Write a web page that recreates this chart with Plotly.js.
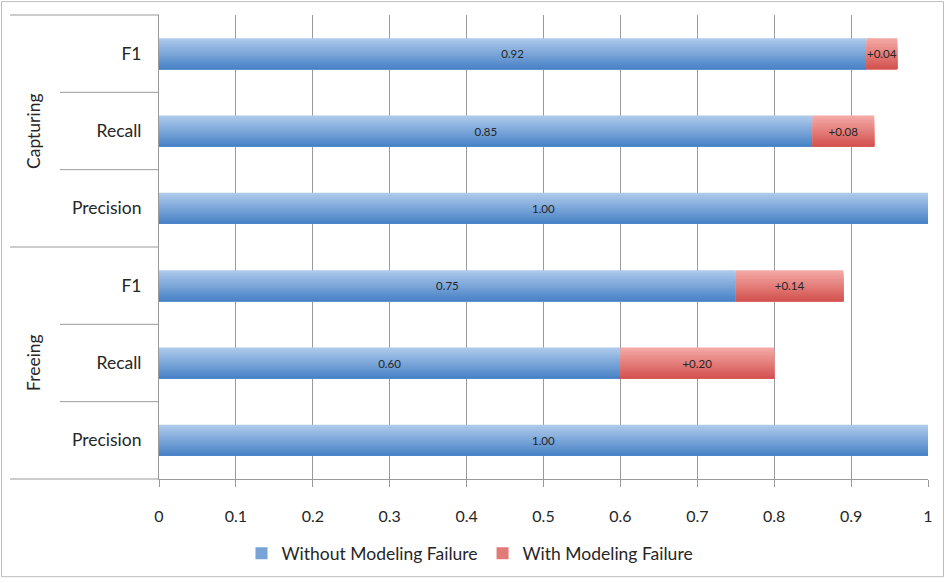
<!DOCTYPE html>
<html>
<head>
<meta charset="utf-8">
<script src="https://cdn.plot.ly/plotly-3.0.1.min.js"></script>
<style>html,body{margin:0;padding:0;background:#fff;}#chart{width:945px;height:583px;}</style>
</head>
<body>
<div id="chart"></div>
<script>
// ---- data ----
var groups = ["Capturing", "Capturing", "Capturing", "Freeing", "Freeing", "Freeing"];
var metrics = ["F1", "Recall", "Precision", "F1", "Recall", "Precision"];
var withoutFailure = [0.92, 0.85, 1.00, 0.75, 0.60, 1.00];
var withFailureAdd = [0.04, 0.08, 0, 0.14, 0.20, 0];
var seriesNames = ["Without Modeling Failure", "With Modeling Failure"];
var xTicks = [0, 0.1, 0.2, 0.3, 0.4, 0.5, 0.6, 0.7, 0.8, 0.9, 1];
var xTickLabels = ["0", "0.1", "0.2", "0.3", "0.4", "0.5", "0.6", "0.7", "0.8", "0.9", "1"];

// ---- build ----
var ids = groups.map(function (g, i) { return g + " " + metrics[i]; });
var FONT = "Lato, 'Open Sans', sans-serif";
var BW = 0.4, N = 14, step = BW / N;
var zeros = withoutFailure.map(function () { return 0; });

function lerp(a, b, t) {
  return "rgb(" + a.map(function (v, k) { return Math.round(v + (b[k] - v) * t); }).join(",") + ")";
}
var blueTop = [172, 200, 234], blueBot = [74, 132, 199];
var redTop = [244, 168, 165], redBot = [211, 84, 80];

var traces = [];
function addSeries(xv, base, top, bot, name) {
  for (var i = 0; i < N; i++) {
    traces.push({
      type: "bar", orientation: "h", y: ids, x: xv, base: base,
      width: BW - i * step, offset: -BW / 2 + i * step,
      marker: {color: lerp(top, bot, i / (N - 1)), line: {width: 0}},
      name: name, showlegend: i === Math.floor(N / 2), legendgroup: name,
      hoverinfo: "skip"
    });
  }
}
addSeries(withoutFailure, zeros, blueTop, blueBot, seriesNames[0]);
addSeries(withFailureAdd, withoutFailure, redTop, redBot, seriesNames[1]);

// labels
traces.push({
  type: "bar", orientation: "h", y: ids, x: withoutFailure, base: zeros,
  width: BW, marker: {color: "rgba(0,0,0,0)"},
  text: withoutFailure.map(function (v) { return v.toFixed(2); }),
  textposition: "inside", insidetextanchor: "middle", textangle: 0, constraintext: "none",
  textfont: {family: FONT, size: 11.5, color: "#262626"}, showlegend: false, hoverinfo: "skip"
});
traces.push({
  type: "bar", orientation: "h", y: ids, x: withFailureAdd, base: withoutFailure,
  width: BW, marker: {color: "rgba(0,0,0,0)"},
  text: withFailureAdd.map(function (v) { return v > 0 ? "+" + v.toFixed(2) : ""; }),
  textposition: "inside", insidetextanchor: "middle", textangle: 0, constraintext: "none",
  textfont: {family: FONT, size: 11.5, color: "#262626"}, showlegend: false, hoverinfo: "skip"
});

// layout geometry helpers (pixel -> paper)
var L = 159, R = 17, T = 15, B = 100, W = 945, H = 583;
var pw = W - L - R, ph = H - T - B;
function px(x) { return (x - L) / pw; }
function py(y) { return (H - B - y) / ph; }

var n = ids.length;
var shapes = [];
var lineCol = "#9a9a9a";
for (var k = 0; k <= n; k++) {
  var yy = 1 - k / n;
  var isGroupEdge = (k === 0 || k === n || groups[k] !== groups[k - 1]);
  shapes.push({type: "line", xref: "paper", yref: "paper", x0: px(isGroupEdge ? 10 : 60), x1: 0, y0: yy, y1: yy,
    line: {color: lineCol, width: 1}});
}
shapes.push({type: "rect", xref: "paper", yref: "paper", x0: px(1.5), x1: px(943.5), y0: py(1.5), y1: py(581.5),
  line: {color: "#bdbdbd", width: 1}, fillcolor: "rgba(0,0,0,0)", layer: "below"});

// group labels
var annotations = [];
var seen = {};
groups.forEach(function (g, i) {
  if (seen[g] !== undefined) return;
  var cnt = groups.filter(function (x) { return x === g; }).length;
  var center = 1 - (i + cnt / 2) / n;
  seen[g] = true;
  annotations.push({xref: "paper", yref: "paper", x: px(33), y: center, text: g, showarrow: false,
    textangle: -90, xanchor: "center", yanchor: "middle", font: {family: FONT, size: 17.5, color: "#262626"}});
});

var layout = {
  width: W, height: H,
  margin: {l: L, r: R, t: T, b: B, pad: 0},
  paper_bgcolor: "#fff", plot_bgcolor: "#fff",
  barmode: "overlay",
  showlegend: true,
  hovermode: false,
  font: {family: FONT, color: "#262626"},
  xaxis: {
    range: [0, 1], tickvals: xTicks, ticktext: xTickLabels,
    showgrid: true, gridcolor: lineCol, gridwidth: 1,
    zeroline: false, showline: true, linecolor: lineCol, linewidth: 1,
    ticks: "outside", ticklen: 7, tickcolor: lineCol, ticklabelstandoff: 16,
    tickfont: {family: FONT, size: 16, color: "#262626"}, fixedrange: true
  },
  yaxis: {
    type: "category", categoryorder: "array", categoryarray: ids,
    range: [n - 0.5, -0.5],
    tickvals: ids, ticktext: metrics,
    showgrid: false, zeroline: false, showline: true, linecolor: lineCol, linewidth: 1,
    ticks: "", ticklabelstandoff: 13,
    tickfont: {family: FONT, size: 17.5, color: "#262626"}, fixedrange: true
  },
  legend: {
    orientation: "h", x: px(470), xanchor: "center", y: py(558), yanchor: "middle",
    font: {family: FONT, size: 17.5, color: "#262626"}, traceorder: "normal",
    itemwidth: 30, bgcolor: "rgba(0,0,0,0)"
  },
  shapes: shapes,
  annotations: annotations
};

Plotly.newPlot("chart", traces, layout, {displayModeBar: false, staticPlot: true});
</script>
</body>
</html>
